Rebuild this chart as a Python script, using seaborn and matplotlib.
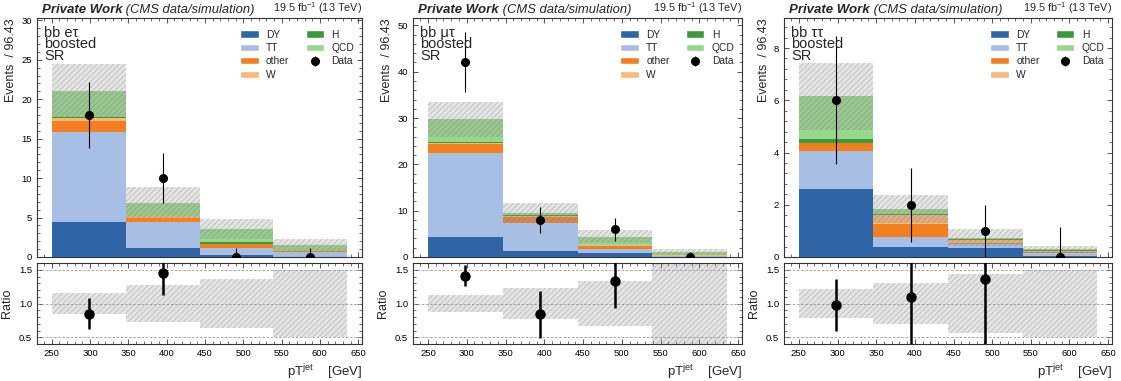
import numpy as np
import pandas as pd
import matplotlib
matplotlib.use("Agg")
import matplotlib.pyplot as plt
import seaborn as sns
from matplotlib.patches import Patch
from matplotlib.ticker import MultipleLocator, FixedLocator

# ---------------- data ----------------
bin_edges = [250.0, 346.43, 442.86, 539.29, 635.71]
processes = ["DY", "TT", "other", "W", "H", "QCD"]
channel_labels = ["bb eτ\nboosted\nSR", "bb μτ\nboosted\nSR", "bb ττ\nboosted\nSR"]

# e-tau
et_DY = [4.5, 1.15, 0.2, 0.05]
et_TT = [11.4, 3.23, 1.0, 0.55]
et_other = [1.3, 0.62, 0.4, 0.1]
et_W = [0.45, 0.2, 0.05, 0.03]
et_H = [0.05, 0.05, 0.25, 0.02]
et_QCD = [3.4, 1.65, 1.6, 0.75]
et_unc = [0.16, 0.28, 0.36, 0.50]
et_data = [18, 10, 0, 0]
et_data_lo = [4.24, 3.16, 0.0, 0.0]
et_data_hi = [4.24, 3.16, 1.15, 1.15]
et_ratio = [0.85, 1.445, np.nan, np.nan]
et_ratio_err = [0.235, 0.32, 0.0, 0.0]

# mu-tau
mt_DY = [4.4, 1.4, 0.9, 0.05]
mt_TT = [18.0, 6.0, 0.9, 0.2]
mt_other = [2.1, 1.3, 0.5, 0.05]
mt_W = [0.1, 0.2, 0.2, 0.05]
mt_H = [0.3, 0.1, 0.1, 0.05]
mt_QCD = [4.8, 0.4, 1.8, 0.6]
mt_unc = [0.13, 0.23, 0.33, 0.65]
mt_data = [42, 8, 6, 0]
mt_data_lo = [6.48, 2.83, 2.45, 0.0]
mt_data_hi = [6.48, 2.83, 2.45, 1.15]
mt_ratio = [1.41, 0.84, 1.34, np.nan]
mt_ratio_err = [0.155, 0.35, 0.41, 0.0]

# tau-tau
tt_DY = [2.61, 0.39, 0.33, 0.03]
tt_TT = [1.45, 0.37, 0.16, 0.12]
tt_other = [0.29, 0.5, 0.05, 0.03]
tt_W = [0.0, 0.34, 0.12, 0.06]
tt_H = [0.16, 0.04, 0.02, 0.01]
tt_QCD = [1.64, 0.2, 0.055, 0.04]
tt_unc = [0.21, 0.30, 0.44, 0.49]
tt_data = [6, 2, 1, 0]
tt_data_lo = [2.45, 1.41, 1.0, 0.0]
tt_data_hi = [2.45, 1.41, 1.0, 1.15]
tt_ratio = [0.98, 1.09, 1.36, np.nan]
tt_ratio_err = [0.39, 0.85, 1.0, 0.0]

y_max = [30.3, 51.6, 9.15]
y_major = [5, 10, 2]

colors = {"DY": "#2f65a7", "TT": "#a7bfe5", "other": "#f37f21",
          "W": "#f8b877", "H": "#3a993a", "QCD": "#97d98b"}

channels = [
    dict(stack=[et_DY, et_TT, et_other, et_W, et_H, et_QCD], unc=et_unc, data=et_data,
         lo=et_data_lo, hi=et_data_hi, ratio=et_ratio, rerr=et_ratio_err),
    dict(stack=[mt_DY, mt_TT, mt_other, mt_W, mt_H, mt_QCD], unc=mt_unc, data=mt_data,
         lo=mt_data_lo, hi=mt_data_hi, ratio=mt_ratio, rerr=mt_ratio_err),
    dict(stack=[tt_DY, tt_TT, tt_other, tt_W, tt_H, tt_QCD], unc=tt_unc, data=tt_data,
         lo=tt_data_lo, hi=tt_data_hi, ratio=tt_ratio, rerr=tt_ratio_err),
]

# ---------------- style ----------------
sns.set_theme(style="ticks")
plt.rcParams["font.family"] = ["Liberation Sans", "DejaVu Sans"]
plt.rcParams["mathtext.fontset"] = "custom"
plt.rcParams["mathtext.rm"] = "Liberation Sans"
plt.rcParams["mathtext.it"] = "Liberation Sans:italic"
plt.rcParams["hatch.linewidth"] = 0.45
plt.rcParams["axes.edgecolor"] = "#333333"
plt.rcParams["axes.linewidth"] = 0.8

W_PX, H_PX = 1121, 381
fig = plt.figure(figsize=(W_PX / 100, H_PX / 100), dpi=100)

panel_left = [37, 413, 784]
panel_width = [325, 329, 328]
main_top, main_bot = 18, 257
rat_top, rat_bot = 263, 344

edges = np.array(bin_edges)
centers = (edges[:-1] + edges[1:]) / 2
widths = np.diff(edges)

band_face = (0.62, 0.62, 0.62, 0.28)
band_edge = (0.45, 0.45, 0.45, 0.45)


def style_ticks(ax):
    ax.tick_params(which="both", direction="in", top=True, right=True, colors="#333333",
                   labelcolor="black", labelsize=6.8)
    ax.tick_params(which="major", length=3.5, width=0.6)
    ax.tick_params(which="minor", length=2, width=0.5)
    ax.xaxis.set_minor_locator(MultipleLocator(10))


for i, ch in enumerate(channels):
    l = panel_left[i] / W_PX
    w = panel_width[i] / W_PX
    ax = fig.add_axes([l, 1 - main_bot / H_PX, w, (main_bot - main_top) / H_PX])
    axr = fig.add_axes([l, 1 - rat_bot / H_PX, w, (rat_bot - rat_top) / H_PX], sharex=ax)

    rows = []
    for p, vals in zip(processes, ch["stack"]):
        for c, v in zip(centers, vals):
            rows.append((float(c), float(v), p))
    df = pd.DataFrame(rows, columns=["pt", "w", "proc"])
    sns.histplot(data=df, x="pt", weights="w", hue="proc", hue_order=processes[::-1],
                 bins=list(bin_edges), multiple="stack", palette=colors, alpha=1, linewidth=0,
                 legend=False, ax=ax)

    total = np.sum(np.array(ch["stack"]), axis=0)
    unc = total * np.array(ch["unc"])
    ax.bar(centers, 2 * unc, bottom=total - unc, width=widths, facecolor=band_face,
           edgecolor=band_edge, hatch="//////", linewidth=0, zorder=3)

    eb = ax.errorbar(centers, ch["data"], yerr=[ch["lo"], ch["hi"]], fmt="o", color="black",
                     ms=5.5, elinewidth=0.8, capsize=0, zorder=5, label="Data")

    ax.set_xlim(230.7, 655.0)
    ax.set_ylim(0, y_max[i])
    ax.yaxis.set_major_locator(MultipleLocator(y_major[i]))
    ax.yaxis.set_minor_locator(MultipleLocator(y_major[i] / 5))
    style_ticks(ax)
    ax.tick_params(labelbottom=False)
    ax.set_xlabel("")
    ax.set_ylabel("Events  / 96.43", fontsize=9, loc="top", labelpad=3)

    ax.text(0.022, 0.968, channel_labels[i], transform=ax.transAxes, ha="left", va="top",
            fontsize=10.5, linespacing=0.8, zorder=6)

    handles = [Patch(facecolor=colors[p], label=p) for p in ["DY", "TT", "other", "W", "H", "QCD"]]
    handles.append(eb)
    leg = ax.legend(handles=handles, ncol=2, loc="upper right", bbox_to_anchor=(1.005, 0.99),
                    frameon=False, fontsize=7.4, handlelength=1.8, handleheight=0.7,
                    labelspacing=0.33, columnspacing=1.6, handletextpad=0.7)

    t1 = ax.text(0.015, 1.01, "Private Work", transform=ax.transAxes, ha="left", va="bottom",
                 fontsize=9.5, fontweight="bold", fontstyle="italic")
    ax.annotate(" (CMS data/simulation)", xy=(1, 0), xycoords=t1, ha="left", va="bottom",
                fontsize=9.4, fontstyle="italic")
    ax.text(1.0, 1.01, r"19.5 fb$^{-1}$ (13 TeV)", transform=ax.transAxes, ha="right",
            va="bottom", fontsize=7.8)

    # ratio panel
    rel = np.array(ch["unc"])
    axr.bar(centers, 2 * rel, bottom=1 - rel, width=widths, facecolor=band_face,
            edgecolor=band_edge, hatch="//////", linewidth=0, zorder=2)
    for yv in (0.5, 1.0, 1.5):
        axr.axhline(yv, color="#999999", lw=0.6, ls=(0, (3, 2)), zorder=1)
    rr = np.array(ch["ratio"], dtype=float)
    m = ~np.isnan(rr)
    axr.errorbar(centers[m], rr[m], yerr=np.array(ch["rerr"])[m], fmt="o", color="black",
                 ms=6.5, elinewidth=1.8, capsize=0, zorder=5)
    axr.set_ylim(0.4, 1.6)
    axr.yaxis.set_major_locator(FixedLocator([0.5, 1.0, 1.5]))
    axr.yaxis.set_minor_locator(MultipleLocator(0.1))
    axr.set_xticks([250, 300, 350, 400, 450, 500, 550, 600, 650])
    style_ticks(axr)
    axr.set_ylabel("Ratio", fontsize=9, labelpad=4)
    axr.set_xlabel(r"pT$^{\mathrm{jet}}$    [GeV]", fontsize=9.5, loc="right", labelpad=3)
    axr.set_xlim(230.7, 655.0)

fig.savefig("out.png", dpi=100)
